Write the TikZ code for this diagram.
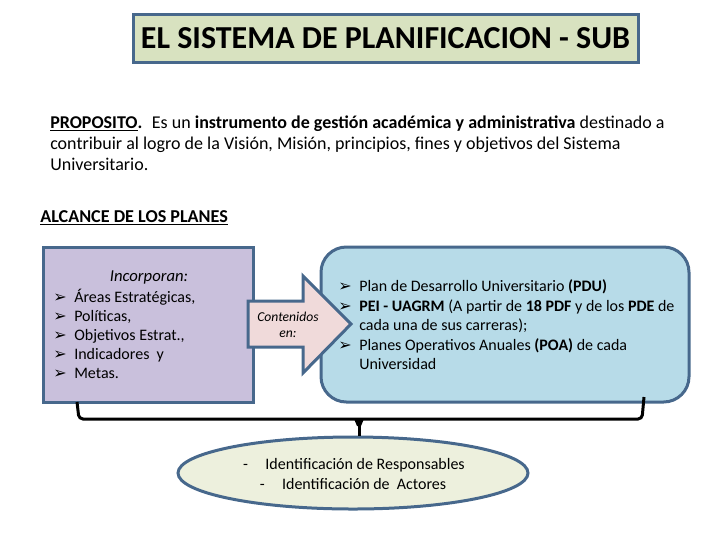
\documentclass[tikz,border=0pt]{standalone}
\usepackage{fontspec}
\setmainfont{Carlito}
\newfontfamily\dingfont{DejaVu Sans}
\usetikzlibrary{shapes,positioning}
\definecolor{edgeblue}{HTML}{47688C}
\definecolor{titlegreen}{HTML}{D8E2C0}
\definecolor{boxlilac}{HTML}{C9C0DC}
\definecolor{boxblue}{HTML}{B7DBE8}
\definecolor{arrowpink}{HTML}{F0DADA}
\definecolor{ovalgreen}{HTML}{EDF0DD}
\newcommand{\bul}{{\dingfont\fontsize{12}{12}\selectfont\symbol{"27A2}}}
\tikzset{
  framed/.style={draw=edgeblue, line width=2.25pt},
  plain/.style={anchor=west, align=left, inner sep=0pt},
  bracket/.style={draw=black, line width=2.25pt, rounded corners=3pt}
}
\begin{document}
\begin{tikzpicture}[x=0.75pt,y=-0.75pt]
        \useasboundingbox (0,0) rectangle (720,540);
        % title and text
        \node [framed, fill=titlegreen, minimum width=505*0.75pt, minimum height=48*0.75pt, font=\fontsize{24}{28}\bfseries\selectfont] (title) at (385.5,38.5) {EL SISTEMA DE PLANIFICACION - SUB};
        \node [plain, font=\fontsize{13.5}{15.75}\selectfont] (proposito) at (50,143) {\underline{\textbf{PROPOSITO}}\textbf{.} \ Es un \textbf{instrumento de gestión académica y administrativa} destinado a\\contribuir al logro de la Visión, Misión, principios, fines y objetivos del Sistema\\Universitario.};
        \node [plain, font=\fontsize{13.6}{15}\selectfont] (alcance) at (40,217.5) {\underline{\textbf{ALCANCE DE LOS PLANES}}};
        % boxes
        \node [framed, fill=boxlilac, minimum width=210*0.75pt, minimum height=155*0.75pt] (lilac) at (148,324.5) {};
        \node [framed, fill=boxblue, rounded corners=19pt, minimum width=368*0.75pt, minimum height=155*0.75pt] (blue) at (505,324.5) {};
        \node [framed, fill=ovalgreen, ellipse, minimum width=350*0.75pt, minimum height=72*0.75pt] (oval) at (353,473) {};
        % block arrow
        \draw [framed, fill=arrowpink, line join=miter] (248,301) -- (303,301) -- (303,276) -- (351,324) -- (303,373) -- (303,347) -- (248,347) -- cycle;
        \node [align=center, inner sep=0pt, font=\fontsize{10.2}{12}\itshape\selectfont] (contenidos) at (288,325) {Contenidos\\en:};
        % list texts
        \node [inner sep=0pt, font=\fontsize{12.5}{14}\itshape\selectfont] (incorporan) at (149,277) {Incorporan:};
        \node [plain, font=\fontsize{12}{14.25}\selectfont] (planes) at (53,337) {\begin{tabular}{@{}l@{\hspace{5.7pt}}l@{}}
        \bul & Áreas Estratégicas,\\
        \bul & Políticas,\\
        \bul & Objetivos Estrat.,\\
        \bul & Indicadores \ y\\
        \bul & Metas.
        \end{tabular}};
        \node [plain, font=\fontsize{12}{14.6}\selectfont] (lista) at (338,327) {\begin{tabular}{@{}l@{\hspace{5.7pt}}l@{}}
        \bul & Plan de Desarrollo Universitario \textbf{(PDU)}\\
        \bul & \textbf{PEI - UAGRM} (A partir de \textbf{18 PDF} y de los \textbf{PDE} de\\
        & cada una de sus carreras);\\
        \bul & Planes Operativos Anuales \textbf{(POA)} de cada\\
        & Universidad
        \end{tabular}};
        \node [inner sep=0pt, font=\fontsize{12}{14}\selectfont] (resp) at (354,465) {-\hspace{13pt}Identificación de Responsables};
        \node [inner sep=0pt, font=\fontsize{12}{14}\selectfont] (actores) at (353,484) {-\hspace{13pt}Identificación de \ Actores};
        % bracket below the boxes
        \coordinate (brl) at (77,402);
        \coordinate (brr) at (644,397);
        \coordinate (brm) at (359,419);
        \draw [bracket] (brl) -- (79,419) -- (brm) -- (642,419) -- (brr);
        \draw [draw=black, line width=2.25pt] (brm) -- (brm |- oval.north);
        \fill (354.5,420) -- (363.5,420) -- (361,426) -- (357,426) -- cycle;
    \end{tikzpicture}
\end{document}
